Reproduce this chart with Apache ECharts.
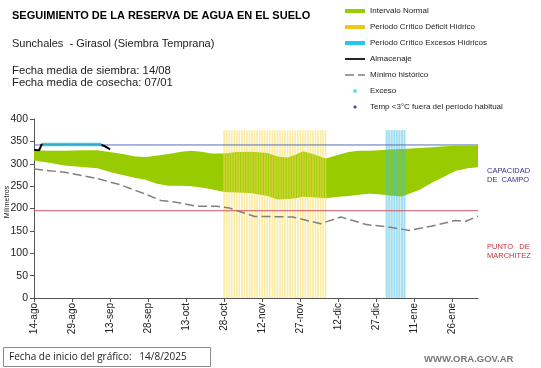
<!DOCTYPE html>
<html>
<head>
<meta charset="utf-8">
<script src="https://cdn.jsdelivr.net/npm/echarts@6/dist/echarts.min.js"></script>
<style>
html,body{margin:0;padding:0;background:#fff;}
#c{width:541px;height:368px;}
</style>
</head>
<body>
<div id="c"></div>
<script>
// ---- data (day index counted from 14-ago-2025) ----
var tickDays   = [0,15,30,45,60,75,90,105,120,135,150,165];
var tickLabels = ['14-ago','29-ago','13-sep','28-sep','13-oct','28-oct','12-nov','27-nov','12-dic','27-dic','11-ene','26-ene'];

var bandDays = [0,6,12,19,25,31,35,40,44,48,53,58,62,66,70,75,80,86,92,96,100,103,106,110,115,120,124,128,132,136,140,145,152,157,162,166,171,175];
var bandLow  = [307,302,296,293,290,280,275,268,264,256,251,251,250,247,243,237,236,234,228,220,221,223,226,225,223,226,228,231,233,232,229,227,242,258,272,284,290,292];
var bandHigh = [330,329,329,330,330,325,322,316,315,318,322,327,329,327,323,323,326,327,324,316,314,320,328,322,312,320,326,329,329,330,332,333,335,337,339,340,340,340];

var minDays = [0,12,25,34,44,50,56,64,72,77,87,93,102,113,121,131,139,148,157,166,170,175];
var minVals = [288,281,267,253,232,218,214,205,205,201,182,182,181,166,181,164,159,151,161,173,171,183];

var almDays = [0,2,3,26,28,30];
var almVals = [331,330,343,343,339,332];

var excesoDays = [4,5,6,7,8,9,10,11,12,13,14,15,16,17,18,19,20,21,22,23,24,25,26];
var excesoVal  = 343;

var deficitDays = [75,76,77,78,79,80,81,82,83,84,85,86,87,88,89,90,91,92,93,94,95,96,97,98,99,100,101,102,103,104,105,106,107,108,109,110,111,112,113,114,115];
var excesoCritDays = [139,140,141,142,143,144,145,146];
var critVal = 375;

var capacidad = 342;
var marchitez = 195;
var lastDay = 175;

// ---- build series data ----
function pairs(xs, ys){ return xs.map(function(x,i){ return [x, Array.isArray(ys) ? ys[i] : ys]; }); }
var bandData = bandDays.map(function(d,i){ return [d, bandLow[i], bandHigh[i]]; });

function renderBand(params, api){
  if (params.dataIndex !== 0) return null;
  var pts = [];
  for (var i = 0; i < bandData.length; i++) pts.push(api.coord([bandData[i][0], bandData[i][2]]));
  for (var j = bandData.length - 1; j >= 0; j--) pts.push(api.coord([bandData[j][0], bandData[j][1]]));
  return {type:'polygon', shape:{points:pts}, style:{fill:'#99CC00'}};
}

var FF = '"Liberation Sans", Arial, sans-serif';
var chart = echarts.init(document.getElementById('c'), null, {renderer:'canvas'});

var option = {
  animation:false,
  backgroundColor:'#fff',
  title:[
    {text:'SEGUIMIENTO DE LA RESERVA DE AGUA EN EL SUELO', left:12, top:10, padding:0,
     textStyle:{fontFamily:FF, fontSize:11, fontWeight:'bold', color:'#000'}},
    {text:'Sunchales  - Girasol (Siembra Temprana)', left:12, top:38, padding:0,
     textStyle:{fontFamily:FF, fontSize:11, fontWeight:'normal', color:'#222'}},
    {text:'Fecha media de siembra: 14/08\nFecha media de cosecha: 07/01', left:12, top:65, padding:0,
     textStyle:{fontFamily:FF, fontSize:11.3, fontWeight:'normal', color:'#222', lineHeight:12}}
  ],
  legend:{
    orient:'vertical', left:345, top:6, padding:0,
    itemWidth:20, itemHeight:4, itemGap:6,
    textStyle:{fontFamily:FF, fontSize:8, color:'#222', lineHeight:10},
    data:[
      {name:'Intervalo Normal', icon:'rect', itemStyle:{color:'#99CC00'}},
      {name:'Periodo Crítico Déficit Hídrico', icon:'rect', itemStyle:{color:'#F5C518'}},
      {name:'Periodo Crítico Excesos Hídricos', icon:'rect', itemStyle:{color:'#22C8EE'}},
      {name:'Almacenaje', icon:'path://M0,0h20v1.7h-20z', itemStyle:{color:'#000'}},
      {name:'Mínimo histórico', icon:'path://M0,0h9v1.4h-9zM13,0h7v1.4h-7z', itemStyle:{color:'#808080'}},
      {name:'Exceso', icon:'circle', itemStyle:{color:'#3FCFF0'}},
      {name:'Temp <3°C fuera del período habitual', icon:'path://M5,0L10,5L5,10L0,5Z', itemStyle:{color:'#1F1F99'}}
    ]
  },
  grid:{left:34, right:63, top:119, bottom:70},
  xAxis:{
    type:'value', min:0, max:lastDay,
    axisLine:{lineStyle:{color:'#555', width:1}},
    axisTick:{show:true, length:4, lineStyle:{color:'#555'}, customValues:tickDays},
    axisLabel:{rotate:90, fontFamily:FF, fontSize:10, color:'#222', margin:5,
      customValues:tickDays,
      formatter:function(v){ var i = tickDays.indexOf(v); return i>=0 ? tickLabels[i] : ''; }},
    splitLine:{show:false}
  },
  yAxis:{
    type:'value', min:0, max:400, interval:50,
    axisLine:{show:true, lineStyle:{color:'#555', width:1}},
    axisTick:{show:true, length:4, lineStyle:{color:'#555'}},
    axisLabel:{fontFamily:FF, fontSize:10.5, color:'#222', margin:6},
    splitLine:{show:false}
  },
  graphic:[
    {type:'text', x:7, y:202, rotation:Math.PI/2,
     style:{text:'Milímetros', fontFamily:FF, fontSize:7, fill:'#222', textAlign:'center', textVerticalAlign:'middle'}},
    {type:'text', left:487, top:166,
     style:{text:'CAPACIDAD\nDE  CAMPO', fontFamily:FF, fontSize:7.5, lineHeight:9, fill:'#33339A'}},
    {type:'text', left:487, top:242,
     style:{text:'PUNTO   DE\nMARCHITEZ', fontFamily:FF, fontSize:7.5, lineHeight:9, fill:'#C8303C'}},
    {type:'rect', shape:{x:3.5, y:347.5, width:207, height:19},
     style:{fill:'#fff', stroke:'#8a8a8a', lineWidth:1}},
    {type:'text', x:9, y:357,
     style:{text:'Fecha de inicio del gráfico:   14/8/2025', fontFamily:'"Open Sans", "Liberation Sans", sans-serif', fontSize:10, fill:'#222', textVerticalAlign:'middle'}},
    {type:'text', x:424, y:359,
     style:{text:'WWW.ORA.GOV.AR', fontFamily:FF, fontSize:9.5, fontWeight:'bold', fill:'#777', textVerticalAlign:'middle'}}
  ],
  series:[
    {name:'Intervalo Normal', type:'custom', renderItem:renderBand, data:bandData,
     encode:{x:0, y:[1,2]}, itemStyle:{color:'#99CC00'}, silent:true, z:1},
    {name:'Periodo Crítico Déficit Hídrico', type:'bar', barWidth:1.7, barGap:'-100%',
     data:pairs(deficitDays, critVal), itemStyle:{color:'rgba(245,220,90,0.55)'}, z:2},
    {name:'Periodo Crítico Excesos Hídricos', type:'bar', barWidth:2, barGap:'-100%',
     data:pairs(excesoCritDays, critVal), itemStyle:{color:'rgba(60,190,225,0.5)'}, z:2},
    {name:'Capacidad', type:'line', data:[[0,capacidad],[lastDay,capacidad]], symbol:'none',
     lineStyle:{color:'#5570B5', width:1}, z:3},
    {name:'Marchitez', type:'line', data:[[0,marchitez],[lastDay,marchitez]], symbol:'none',
     lineStyle:{color:'#CC5566', width:1}, z:3},
    {name:'Mínimo histórico', type:'line', data:pairs(minDays, minVals), symbol:'none',
     itemStyle:{color:'#808080'}, lineStyle:{color:'#808080', width:1.5, type:[9,4]}, z:4},
    {name:'Almacenaje', type:'line', data:pairs(almDays, almVals), symbol:'none',
     itemStyle:{color:'#000'}, lineStyle:{color:'#000', width:2}, z:5},
    {name:'Exceso', type:'scatter', data:pairs(excesoDays, excesoVal), symbol:'rect', symbolSize:[3,3.5],
     itemStyle:{color:'#3FCFF0'}, z:6},
    {name:'Temp <3°C fuera del período habitual', type:'scatter', data:[], symbol:'diamond', symbolSize:5,
     itemStyle:{color:'#1F1F99'}, z:6}
  ]
};
chart.setOption(option);
</script>
</body>
</html>
